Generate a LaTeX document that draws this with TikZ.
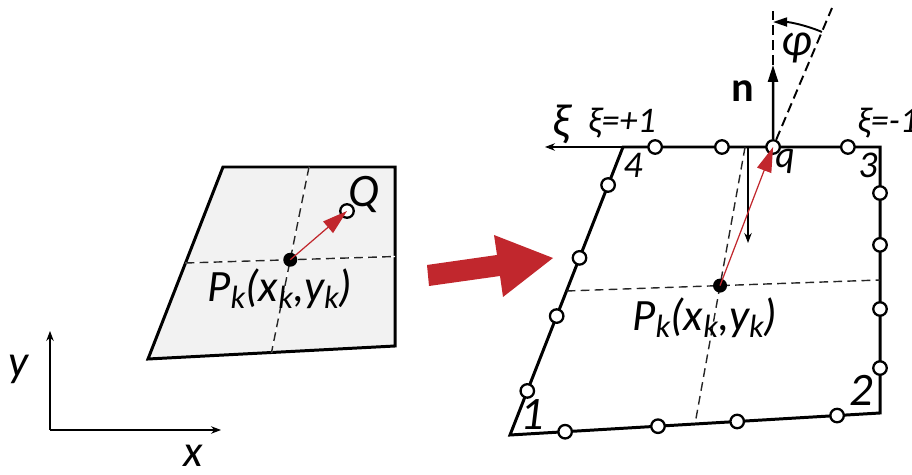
\documentclass[tikz,border=0pt]{standalone}
\usepackage{fontspec}
\setmainfont{Carlito}
\usetikzlibrary{arrows.meta,positioning,calc}
\definecolor{mapred}{RGB}{193,39,45}
\newcommand{\ks}{\raisebox{-0.3ex}{\scalebox{0.72}{k}}}
\tikzset{
  element/.style={draw=black, line width=1.7pt, line join=miter},
  midline/.style={dashed, dash pattern=on 5pt off 3pt, line width=0.8pt, black!85},
  gaussnode/.style={circle, draw=black, fill=white, line width=1.3pt, minimum size=2.7mm, inner sep=0pt},
  centrenode/.style={circle, fill=black, minimum size=2.8mm, inner sep=0pt},
  redarrow/.style={-{Triangle[length=5mm, width=3mm]}, line width=0.7pt, mapred},
  thinarrow/.style={-{Stealth[length=2mm, width=1.5mm]}, line width=0.6pt},
  normalarrow/.style={-{Triangle[length=3.4mm, width=2mm]}, line width=1.4pt},
  refline/.style={dashed, dash pattern=on 5.5pt off 3pt, line width=1.1pt},
  anglearrow/.style={-{Triangle[length=2.8mm, width=1.8mm]}, line width=1.1pt},
  lbl/.style={font=\fontsize{25.5}{30}\selectfont\itshape, inner sep=0pt},
  biglbl/.style={font=\fontsize{26.5}{31}\selectfont\itshape, inner sep=0pt},
  numlbl/.style={font=\fontsize{21.5}{26}\selectfont\itshape, inner sep=0pt},
  smalllbl/.style={font=\fontsize{20.5}{24}\selectfont\itshape, inner sep=0pt}
}

\begin{document}
\begin{tikzpicture}[x=0.02cm, y=-0.02cm]
  \useasboundingbox (0,0) rectangle (912,475);

  % global axes
  \coordinate (o) at (50,430);
  \coordinate (ytip) at (50,331);
  \coordinate (xtip) at (221,430);
  \draw[thinarrow] (o) -- (ytip);
  \draw[thinarrow] (o) -- (xtip);
  \node[lbl, anchor=base] (ylab) at (19,377) {y};
  \node[lbl, anchor=base, text depth=0pt] (xlab) at (193,467) {x};

  % element in x,y
  \coordinate (a1) at (148,359);
  \coordinate (a2) at (395,346);
  \coordinate (a3) at (395,167);
  \coordinate (a4) at (223,167);
  \draw[element, fill=gray!10] (a1) -- (a2) -- (a3) -- (a4) -- cycle;
  \coordinate (aw) at ($(a1)!0.5!(a4)$);
  \coordinate (ae) at ($(a2)!0.5!(a3)$);
  \coordinate (an) at ($(a4)!0.5!(a3)$);
  \coordinate (as) at ($(a1)!0.5!(a2)$);
  \draw[white, line width=0.8pt] (aw) -- (ae) (an) -- (as);
  \draw[midline] (aw) -- (ae) (an) -- (as);
  \node[centrenode] (pk) at (intersection of aw--ae and an--as) {};
  \node[gaussnode] (qq) at (347,211) {};
  \draw[redarrow] (pk.center) -- (qq.center);
  \node[biglbl, anchor=base] (qlab) at (364,207) {Q};
  \node[lbl, anchor=base] (pklab) at (280,302) {P\ks(x\ks,y\ks)};

  % mapping
  \fill[mapred] (427,265) -- (497,255) -- (494,235) -- (553,258) -- (503,297) -- (500,276) -- (429,286) -- cycle;

  % element in xi,eta
  \coordinate (c1) at (510,435);
  \coordinate (c2) at (880,413);
  \coordinate (c3) at (880,147);
  \coordinate (c4) at (623,147);
  \draw[element] (c1) -- (c2) -- (c3) -- (c4) -- cycle;
  \coordinate (cw) at ($(c1)!0.5!(c4)$);
  \coordinate (ce) at ($(c2)!0.5!(c3)$);
  \coordinate (cn) at ($(c4)!0.475!(c3)$);
  \coordinate (cs) at ($(c1)!0.5!(c2)$);
  \draw[midline] (cw) -- (ce) (cn) -- (cs);
  \coordinate (xiend) at (545,147);
  \draw[thinarrow] (c4) -- (xiend);
  \coordinate (dtop) at (748,147);
  \coordinate (dbot) at (748,243);
  \draw[thinarrow] (dtop) -- (dbot);

  \foreach \t [count=\i] in {0.153,0.413,0.615,0.868}
    \node[gaussnode] (w\i) at ($(c1)!\t!(c4)$) {};
  \foreach \t [count=\i] in {0.149,0.4,0.614,0.884}
    \node[gaussnode] (s\i) at ($(c1)!\t!(c2)$) {};
  \foreach \t [count=\i] in {0.169,0.391,0.632,0.827}
    \node[gaussnode] (e\i) at ($(c2)!\t!(c3)$) {};
  \foreach \t [count=\i] in {0.125,0.615,0.875}
    \node[gaussnode] (n\i) at ($(c3)!\t!(c4)$) {};
  \node[gaussnode] (q) at ($(c3)!0.416!(c4)$) {};

  \node[centrenode] (pkr) at (intersection of cw--ce and cn--cs) {};
  \draw[redarrow] (pkr.center) -- (q.center);

  % normal and angle
  \coordinate (ntip) at (773,65);
  \coordinate (vtop) at (773,8);
  \coordinate (phitop) at (832,8);
  \draw[normalarrow] (q) -- (ntip);
  \draw[refline] (ntip) -- (vtop);
  \draw[refline] (q) -- (phitop);
  \draw[anglearrow] ([shift={(67:2.5cm)}]q.center) arc[start angle=67, end angle=90, radius=2.5cm];
  \node[biglbl] (philab) at (797,48) {φ};
  \node[font=\fontsize{24}{29}\selectfont\bfseries, inner sep=0pt, anchor=base] (nlab) at (743,102) {n};

  % labels
  \node[biglbl] (xilab) at (561,124) {ξ};
  \node[smalllbl, anchor=base] (xiplus) at (622,133) {ξ=+1};
  \node[smalllbl, anchor=base west] (ximinus) at (857,133) {ξ=-1};
  \node[numlbl, anchor=base] (v4) at (633,178) {4};
  \node[numlbl, anchor=base] (v3) at (868,178) {3};
  \node[numlbl, anchor=base] (qlab2) at (785,168) {q};
  \node[biglbl, anchor=base] (v1) at (532,430) {1};
  \node[biglbl, anchor=base] (v2) at (861,406) {2};
  \node[lbl, anchor=base] (pkrlab) at (705,331) {P\ks(x\ks,y\ks)};
\end{tikzpicture}
\end{document}
